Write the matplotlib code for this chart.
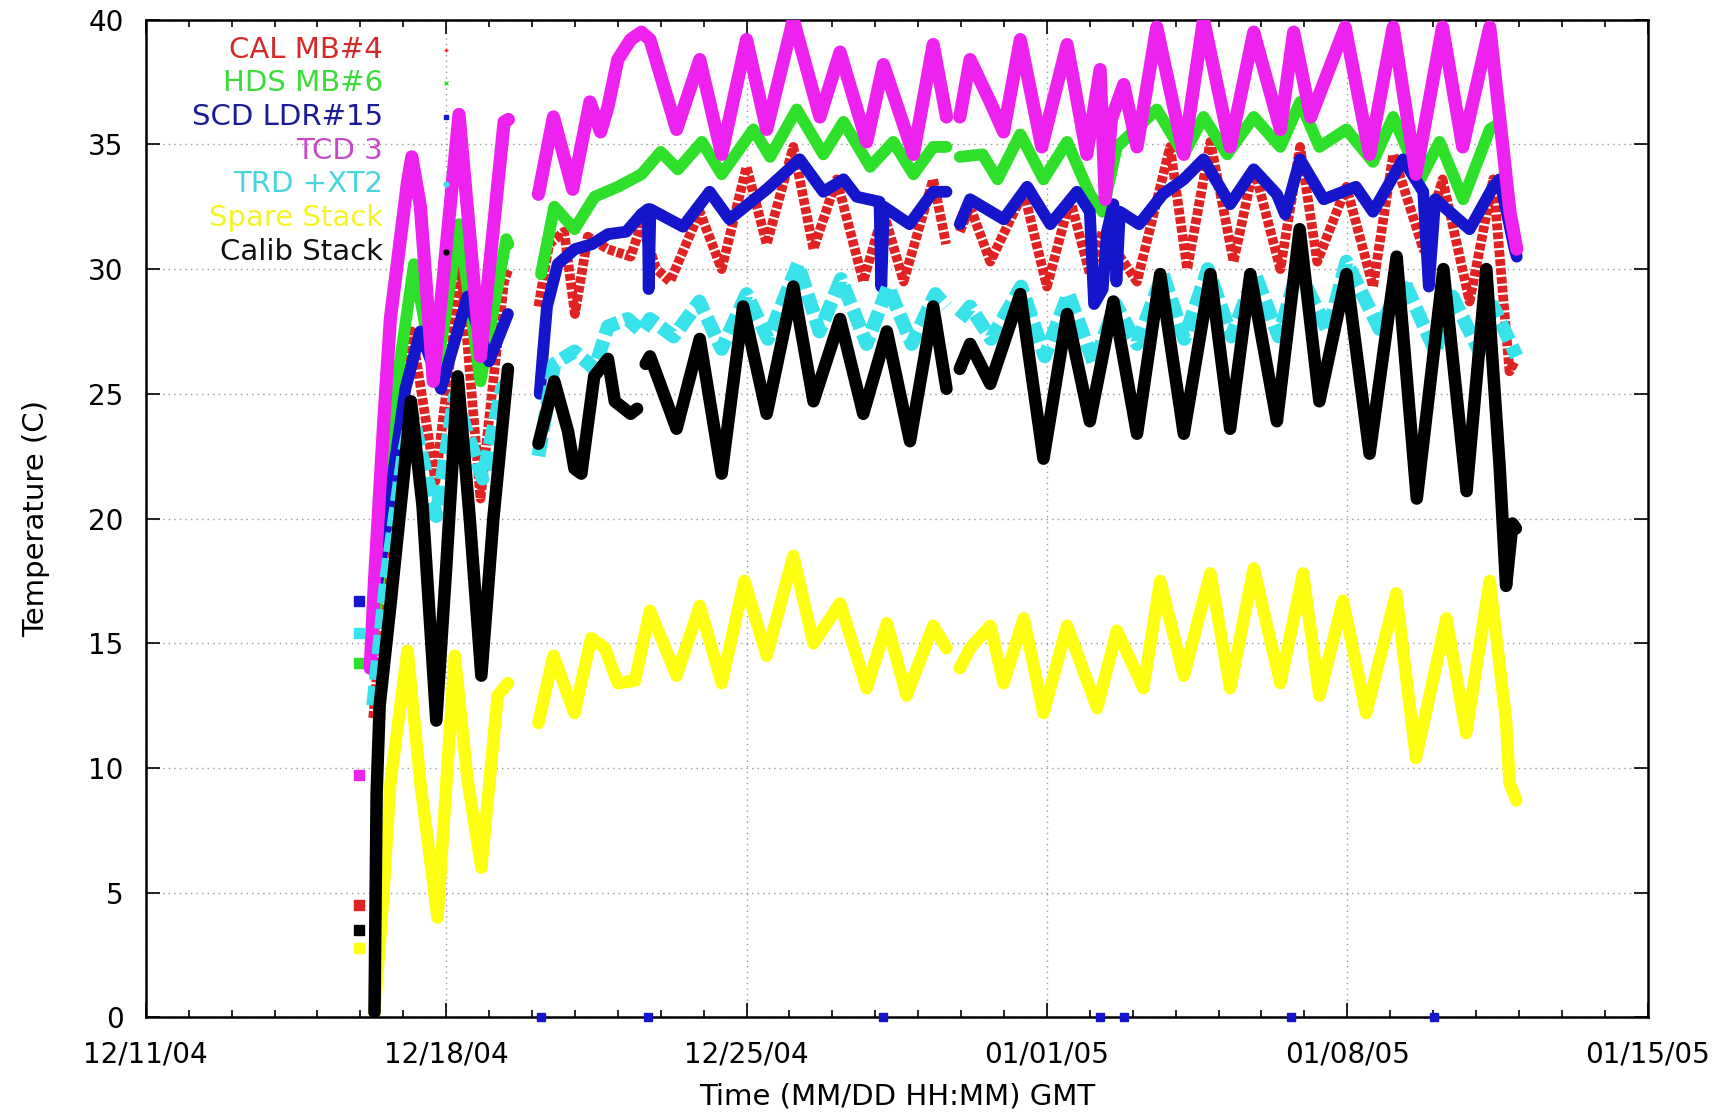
import numpy as np
import matplotlib
matplotlib.use("Agg")
import matplotlib.pyplot as plt
import matplotlib.dates as mdates
from datetime import datetime

nan = np.nan

# times are days after 12/11/04 00:00 GMT, nan marks a gap in the telemetry
cal_day = [5.30, 5.60, 5.90, 6.20, 6.75, 7.35, 7.80, 8.35, 8.45, nan,
           9.15, 9.40, 9.75, 10.00, 10.30, 10.77, 11.30, 11.55, 11.90, 12.22,
           12.91, 13.42, 14.00, 14.47, 15.09, 15.56, 16.10, 16.72, 17.19, 17.66,
           18.35, 18.65, nan, 18.97, 19.21, 19.68, 20.46, 21.00, 21.54, 22.00,
           22.30, 23.10, 23.87, 24.27, 24.81, 25.35, 25.82, 26.44, 26.90, 27.30,
           27.98, 28.60, 29.07, 29.77, 30.22, 30.85, 31.40, 31.78, 31.90]
cal_temp = [12.0, 18.0, 23.0, 27.5, 21.5, 30.0, 20.8, 29.5, 30.0, nan,
            28.5, 31.0, 31.5, 28.2, 31.3, 30.8, 30.5, 31.8, 30.0, 29.5,
            32.3, 30.0, 34.1, 31.0, 34.9, 30.8, 33.6, 29.5, 32.3, 29.5,
            33.6, 31.0, nan, 31.5, 32.5, 30.3, 33.1, 29.3, 32.8, 29.8,
            31.5, 29.5, 34.9, 30.0, 35.1, 30.3, 34.1, 30.0, 34.9, 30.3,
            33.3, 29.3, 34.6, 30.8, 33.6, 28.7, 33.6, 25.9, 26.3]

hds_day = [5.25, 5.60, 5.90, 6.25, 6.75, 7.30, 7.80, 8.40, 8.45, nan,
           9.21, 9.52, 9.99, 10.46, 11.00, 11.55, 12.00, 12.40, 12.96, 13.42,
           14.16, 14.55, 15.17, 15.79, 16.26, 16.88, 17.42, 17.89, 18.35, 18.66,
           nan, 18.97, 19.50, 19.85, 20.38, 20.92, 21.47, 22.00, 22.30, 22.63,
           23.56, 24.19, 24.65, 25.20, 25.82, 26.44, 26.90, 27.35, 27.98, 28.60,
           29.07, 29.70, 30.15, 30.70, 31.32, 31.50]
hds_temp = [14.5, 20.0, 26.0, 30.2, 25.5, 31.8, 25.5, 31.2, 31.0, nan,
            29.8, 32.5, 31.6, 32.9, 33.3, 33.8, 34.7, 34.0, 35.1, 33.8,
            35.6, 34.5, 36.4, 34.6, 35.9, 34.1, 35.1, 33.8, 34.9, 34.9,
            nan, 34.5, 34.6, 33.6, 35.4, 33.6, 35.1, 33.0, 32.3, 34.9,
            36.4, 34.6, 36.1, 34.6, 36.1, 34.9, 36.7, 34.9, 35.6, 34.3,
            36.1, 33.6, 35.1, 32.8, 35.6, 35.8]

scd_day = [5.30, 5.45, 5.75, 6.05, 6.40, 6.88, 7.50, 8.00, 8.44, nan,
           9.18, 9.25, 9.35, 9.60, 10.00, 10.40, 10.77, 11.20, 11.55, 11.70,
           11.72, 11.76, 12.52, 13.14, 13.60, 14.47, 15.24, 15.79, 16.26, 16.57,
           17.10, 17.14, 17.20, 17.80, 18.35, 18.66, nan, 18.97, 19.21, 19.99,
           20.54, 21.08, 21.70, 22.00, 22.10, 22.30, 22.40, 22.55, 22.62, 22.70,
           23.15, 23.70, 24.19, 24.65, 25.27, 25.82, 26.36, 26.55, 26.90, 27.45,
           28.20, 28.60, 29.30, 29.77, 29.90, 30.05, 30.85, 31.40, 31.55, 31.90,
           31.95]
scd_temp = [16.5, 18.0, 21.6, 25.2, 27.5, 25.2, 28.9, 26.3, 28.2, nan,
            25.0, 26.5, 28.5, 30.2, 30.8, 31.0, 31.4, 31.5, 32.2, 32.4,
            29.2, 32.4, 31.7, 33.1, 32.0, 33.2, 34.4, 33.1, 33.6, 32.9,
            32.7, 29.3, 32.5, 31.8, 33.1, 33.1, nan, 31.8, 32.8, 32.0,
            33.3, 31.8, 33.1, 32.3, 28.6, 29.2, 31.5, 32.6, 29.5, 32.3,
            31.8, 33.0, 33.6, 34.4, 32.6, 34.0, 33.0, 32.2, 34.4, 32.8,
            33.3, 32.3, 34.4, 33.1, 29.3, 32.8, 31.6, 33.3, 33.6, 30.8,
            30.5]
scd_zero_day = [9.20, 11.70, 17.17, 22.23, 22.79, 26.70, 30.02]

tcd_day = [5.23, 5.33, 5.55, 5.70, 6.10, 6.20, 6.40, 6.70, 7.30, 7.80,
           8.35, 8.45, nan, 9.15, 9.50, 9.95, 10.35, 10.60, 10.77, 11.00,
           11.30, 11.55, 11.75, 12.37, 12.91, 13.42, 14.00, 14.47, 15.09, 15.71,
           16.18, 16.80, 17.19, 17.89, 18.35, 18.66, nan, 18.97, 19.21, 19.68,
           19.99, 20.38, 20.88, 21.47, 21.93, 22.24, 22.36, 22.50, 22.79, 23.10,
           23.56, 24.19, 24.65, 25.27, 25.82, 26.44, 26.75, 27.15, 27.95, 28.52,
           29.07, 29.60, 30.22, 30.69, 31.32, 31.79, 31.95]
tcd_temp = [14.0, 17.5, 24.0, 28.0, 33.5, 34.5, 32.5, 25.5, 36.2, 26.5,
            35.9, 36.0, nan, 33.0, 36.1, 33.2, 36.7, 35.5, 36.5, 38.4,
            39.2, 39.5, 39.2, 35.6, 38.4, 34.6, 39.2, 35.6, 40.0, 36.1,
            38.7, 35.1, 38.2, 34.6, 39.0, 36.1, nan, 36.1, 38.4, 36.7,
            35.5, 39.2, 34.9, 39.0, 34.6, 38.0, 32.8, 36.0, 37.4, 34.9,
            39.7, 34.6, 40.0, 34.9, 39.5, 35.6, 39.5, 36.1, 39.7, 34.6,
            39.7, 33.8, 39.7, 34.9, 39.7, 32.3, 30.8]

trd_day = [5.30, 5.60, 6.00, 6.20, 6.77, 7.20, 7.85, 8.30, 8.44, nan,
           9.15, 9.35, 9.52, 9.99, 10.46, 10.77, 11.23, 11.55, 11.75, 12.30,
           12.90, 13.42, 14.00, 14.50, 15.20, 15.70, 16.20, 16.80, 17.30, 17.85,
           18.40, 18.66, nan, 18.97, 19.21, 19.70, 20.40, 20.95, 21.50, 22.10,
           22.60, 23.10, 23.70, 24.20, 24.75, 25.30, 25.85, 26.40, 26.85, 27.55,
           27.98, 28.75, 29.30, 30.05, 30.45, 31.08, 31.40, 31.95]
trd_temp = [12.5, 17.5, 22.5, 24.2, 20.1, 24.9, 21.6, 25.2, 25.5, nan,
            22.5, 24.5, 26.2, 26.7, 26.0, 27.7, 28.0, 27.5, 28.0, 27.3,
            28.7, 26.8, 29.0, 27.2, 30.2, 27.5, 29.6, 27.0, 29.3, 27.0,
            29.0, 28.5, nan, 28.0, 28.5, 27.2, 29.3, 26.5, 29.0, 26.2,
            28.6, 27.0, 29.8, 27.2, 30.0, 27.3, 29.8, 27.3, 30.0, 27.5,
            30.3, 27.6, 29.6, 26.7, 28.9, 26.7, 28.5, 26.5]

spare_day = [5.33, 5.50, 5.70, 6.10, 6.40, 6.80, 7.20, 7.50, 7.82, 8.20,
             8.44, nan, 9.15, 9.50, 9.99, 10.38, 10.70, 11.00, 11.40, 11.75,
             12.37, 12.91, 13.42, 13.95, 14.47, 15.09, 15.56, 16.18, 16.80, 17.27,
             17.73, 18.35, 18.66, nan, 18.97, 19.21, 19.68, 19.99, 20.46, 20.92,
             21.47, 22.17, 22.63, 23.25, 23.64, 24.19, 24.81, 25.27, 25.82, 26.44,
             26.97, 27.35, 27.90, 28.44, 29.14, 29.60, 30.31, 30.77, 31.32, 31.70,
             31.78, 31.94]
spare_temp = [0.2, 4.0, 9.4, 14.7, 9.4, 4.0, 14.5, 9.5, 6.0, 12.9,
              13.4, nan, 11.8, 14.5, 12.2, 15.2, 14.8, 13.4, 13.5, 16.3,
              13.7, 16.5, 13.4, 17.5, 14.5, 18.5, 15.0, 16.6, 13.2, 15.8,
              12.9, 15.7, 14.8, nan, 14.0, 14.8, 15.7, 13.4, 16.0, 12.2,
              15.7, 12.4, 15.5, 13.2, 17.5, 13.7, 17.8, 13.2, 18.0, 13.4,
              17.8, 12.9, 16.7, 12.2, 17.0, 10.4, 16.0, 11.4, 17.5, 11.9,
              9.4, 8.7]

calib_day = [5.33, 5.38, 5.45, 5.70, 6.00, 6.18, 6.45, 6.77, 7.00, 7.27,
             7.55, 7.82, 8.10, 8.44, nan, 9.15, 9.52, 9.84, 9.99, 10.15,
             10.45, 10.77, 10.93, 11.30, 11.45, nan, 11.65, 11.75, 12.37, 12.91,
             13.42, 13.92, 14.47, 15.09, 15.56, 16.18, 16.72, 17.27, 17.81, 18.35,
             18.66, nan, 18.97, 19.21, 19.68, 20.38, 20.92, 21.47, 22.00, 22.55,
             23.10, 23.64, 24.19, 24.81, 25.27, 25.74, 26.36, 26.89, 27.35, 27.98,
             28.52, 29.15, 29.62, 30.24, 30.78, 31.24, 31.55, 31.70, 31.85, 31.93]
calib_temp = [0.2, 9.0, 12.5, 16.5, 21.5, 24.7, 20.5, 11.9, 18.0, 25.7,
              20.0, 13.7, 20.0, 26.0, nan, 23.0, 25.5, 23.5, 22.0, 21.8,
              25.7, 26.4, 24.7, 24.2, 24.4, nan, 26.2, 26.5, 23.6, 27.2,
              21.8, 28.5, 24.2, 29.3, 24.7, 28.0, 24.2, 27.5, 23.1, 28.5,
              25.2, nan, 26.0, 27.0, 25.4, 29.0, 22.4, 28.2, 23.9, 28.7,
              23.4, 29.8, 23.4, 29.8, 23.6, 29.8, 23.9, 31.6, 24.7, 29.8,
              22.6, 30.5, 20.8, 30.0, 21.1, 30.0, 22.1, 17.3, 19.8, 19.6]

# first readings on 12/16, before the continuous record starts
first_day = 4.98
first_temp = [4.5, 14.2, 16.7, 9.7, 15.4, 2.8, 3.5]

labels = ["CAL MB#4", "HDS MB#6", "SCD LDR#15", "TCD 3", "TRD +XT2",
          "Spare Stack", "Calib Stack"]
colors = ["#e02222", "#2ee02a", "#1515cc", "#ee22ee", "#38e2ea", "#ffff14", "#000000"]
text_colors = ["#d42a2a", "#3cdc3c", "#1c1c96", "#c848c8", "#48d4dc", "#f4f428", "#111111"]
widths = [7.0, 8.5, 8.5, 9.5, 10.0, 9.0, 9.0]
styles = [(0, (0.7, 0.22)), "-", "-", "-", (0, (1.4, 0.45)), "-", "-"]
legend_marks = ["+", "x", "s", "", "o", "", "o"]

series = [(cal_day, cal_temp), (hds_day, hds_temp), (scd_day, scd_temp),
          (tcd_day, tcd_temp), (trd_day, trd_temp), (spare_day, spare_temp),
          (calib_day, calib_temp)]

base = mdates.date2num(datetime(2004, 12, 11))

plt.rcParams['font.family'] = ['DejaVu Sans']
fig = plt.figure(figsize=(17.19, 11.18), dpi=100)
ax = fig.add_axes([0.0848, 0.09, 0.8737, 0.8924])

for i, (d, t) in enumerate(series):
    x = base + np.array(d, dtype=float)
    ax.plot(x, t, color=colors[i], lw=widths[i], ls=styles[i], zorder=2 + i,
            solid_joinstyle="round", solid_capstyle="round",
            dash_joinstyle="round", dash_capstyle="butt")
    ax.plot(base + first_day, first_temp[i], marker="s", ms=7, color=colors[i],
            ls="none", zorder=2 + i)

ax.plot(base + np.array(scd_zero_day), np.zeros(len(scd_zero_day)), marker="s",
        ms=6, color=colors[2], ls="none", zorder=4, clip_on=False)

# gnuplot style key: right aligned text, sample point after it
for i, lab in enumerate(labels):
    yy = 0.970 - i * 0.0338
    ax.text(0.158, yy, lab, transform=ax.transAxes, ha="right", va="center",
            fontsize=21, color=text_colors[i], zorder=20)
    if legend_marks[i]:
        ax.plot([0.2], [yy], transform=ax.transAxes, marker=legend_marks[i],
                ms=3.5, mew=1, color=colors[i], ls="none", zorder=20)

ax.set_xlim(base, base + 35)
ax.set_ylim(0, 40)
ax.xaxis.set_major_locator(matplotlib.ticker.FixedLocator(base + np.arange(0, 36, 7)))
ax.xaxis.set_minor_locator(matplotlib.ticker.FixedLocator(base + np.arange(0, 36)))
ax.xaxis.set_major_formatter(mdates.DateFormatter("%m/%d/%y"))
ax.set_yticks(np.arange(0, 41, 5))

ax.tick_params(which="both", direction="in", top=True, right=True, width=1.2,
               labelsize=20)
ax.tick_params(which="major", length=10)
ax.tick_params(axis="x", which="major", pad=17)
ax.tick_params(axis="y", which="major", pad=16)
ax.tick_params(which="minor", length=5)
ax.grid(True, which="major", color="#9a9a9a", ls=(0, (1, 3)), lw=1)
for s in ax.spines.values():
    s.set_linewidth(1.8)

ax.set_xlabel("Time (MM/DD HH:MM) GMT", fontsize=21, labelpad=10)
ax.set_ylabel("Temperature (C)", fontsize=21, labelpad=27)

fig.savefig("out.png", dpi=100)
